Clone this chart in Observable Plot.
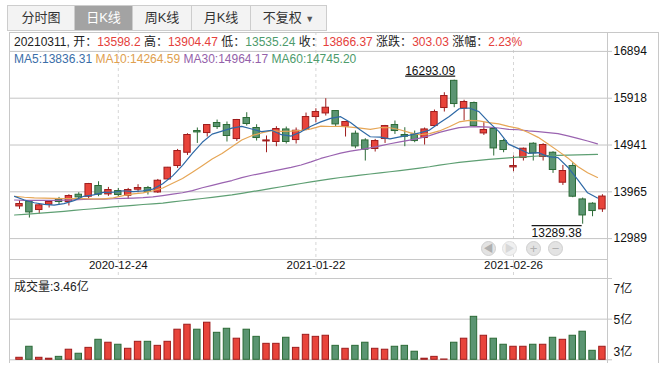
<!DOCTYPE html>
<html><head><meta charset="utf-8">
<script src="https://cdn.jsdelivr.net/npm/d3@7"></script>
<script src="https://cdn.jsdelivr.net/npm/@observablehq/plot@0.6"></script>
<style>
body{margin:0;background:#fff;font-family:"Liberation Sans","Noto Sans CJK SC",sans-serif;}
#wrap{position:relative;width:668px;height:373px;overflow:hidden;background:#fff;}
.hl{position:absolute;height:1px;background:#c8c8c8;}
.vl{position:absolute;width:1px;background:#c8c8c8;}
.tab{position:absolute;top:5px;height:24px;line-height:24px;text-align:center;font-size:13px;color:#333;background:#f3f3f3;border:1px solid #cdcdcd;border-right:none;}
.tab.sel{background:#a3a3a3;color:#fff;}
.tab.last{border-right:1px solid #cdcdcd;}
.info{position:absolute;left:14px;font-size:12px;line-height:16px;white-space:nowrap;color:#222;}
.r{color:#e5403b}.g{color:#4d9b6c}
.btn{position:absolute;top:241px;width:15px;height:15px;border-radius:50%;background:#e3e3e3;border:1px solid #cfcfcf;box-sizing:border-box;color:#b0b0b0;font-size:10px;line-height:13px;text-align:center;}
.btn.off{background:#f0f0f0;color:#d8d8d8;border-color:#e0e0e0;}
#main,#vol{position:absolute;left:0;}
#main{top:32px}#vol{top:278px}
</style></head>
<body><div id="wrap">
<div class="tab" style="left:7px;width:66px">分时图</div>
<div class="tab sel" style="left:74px;width:57px">日K线</div>
<div class="tab" style="left:132px;width:58px">周K线</div>
<div class="tab" style="left:191px;width:58px">月K线</div>
<div class="tab last" style="left:250px;width:75px">不复权 <span style="font-size:9px;color:#555">▼</span></div>
<div id="main"></div>
<div id="vol"></div>
<div class="hl" style="left:9px;top:32px;width:650px"></div>
<div class="vl" style="left:9px;top:32px;height:331px"></div>
<div class="vl" style="left:607px;top:32px;height:331px"></div>
<div class="vl" style="left:658px;top:32px;height:331px"></div>
<div class="hl" style="left:9px;top:259px;width:599px"></div>
<div class="hl" style="left:9px;top:278px;width:603px"></div>
<div class="info" id="line1" style="top:34px"></div>
<div class="info" id="line2" style="top:51px"></div>
<div class="info" id="volLabel" style="top:279px"></div>
<div class="btn" style="left:481px">◀</div>
<div class="btn off" style="left:502px">▶</div>
<div class="btn" style="left:526px;font-size:13px">+</div>
<div class="btn" style="left:548px;font-size:13px">−</div>
</div>
<script>
const dates = ["2020-12-10","2020-12-11","2020-12-14","2020-12-15","2020-12-16","2020-12-17","2020-12-18","2020-12-21","2020-12-22","2020-12-23","2020-12-24","2020-12-25","2020-12-28","2020-12-29","2020-12-30","2020-12-31","2021-01-04","2021-01-05","2021-01-06","2021-01-07","2021-01-08","2021-01-11","2021-01-12","2021-01-13","2021-01-14","2021-01-15","2021-01-18","2021-01-19","2021-01-20","2021-01-21","2021-01-22","2021-01-25","2021-01-26","2021-01-27","2021-01-28","2021-01-29","2021-02-01","2021-02-02","2021-02-03","2021-02-04","2021-02-05","2021-02-08","2021-02-09","2021-02-10","2021-02-18","2021-02-19","2021-02-22","2021-02-23","2021-02-24","2021-02-25","2021-02-26","2021-03-01","2021-03-02","2021-03-03","2021-03-04","2021-03-05","2021-03-08","2021-03-09","2021-03-10","2021-03-11"];
const opens = [13660,13758,13585,13696,13800,13752,13904,13863,14086,13911,13981,13883,14009,14044,13952,14223,14503,14780,15233,15191,15400,15358,15066,15504,15296,15016,15004,15266,15045,15254,15525,15600,15650,15323,15177,15037,14858,15066,15358,15150,15162,15087,15337,15713,16280,15700,15817,15183,15275,15024,14474,14670,14968,14691,14780,14155,14503,13806,13717,13598.2];
const highs = [13779,13769,13710,13779,13848,13904,13946,14140,14175,14057,14036,14036,14113,14077,14223,14474,14849,15177,15296,15364,15462,15421,15475,15615,15364,15129,15323,15316,15296,15608,15698,15907,15656,15433,15233,15072,15058,15350,15442,15302,15233,15296,15671,16032,16293.09,15875,15838,15406,15302,15058,14712,14878,14989,14968,14801,14515,14572,13835,13737,13904.47];
const lows = [13598,13418,13502,13627,13696,13669,13815,13815,13863,13869,13856,13806,13946,13898,13931,14211,14453,14724,14974,15108,15266,15004,15016,15337,15024,14780,14906,14962,14962,15239,15406,15546,15323,15108,14864,14607,14795,14974,15162,14906,14989,14941,15323,15629,15720,15445,15323,15141,14712,14780,14384,14607,14607,14607,14349,14098,13842,13289.38,13445,13535.24];
const closes = [13710,13535,13683,13752,13752,13877,13848,14127,13904,14002,13898,14002,14044,13967,14196,14468,14816,15150,15204,15358,15316,15129,15463,15379,15087,15037,15275,15004,15239,15525,15629,15719,15371,15421,14912,14843,15024,15337,15233,15114,15024,15266,15629,15963,15796,15838,15337,15254,14870,14837,14503,14864,14766,14941,14420,14399,13863,13472,13564,13866.37];
const volumes = [2.51,3.22,2.51,2.45,2.57,3.03,2.77,3.15,3.67,3.48,3.35,3.09,3.54,3.54,3.28,3.54,4.32,4.64,4.32,4.77,4.12,4.38,3.74,4.32,3.86,3.41,3.41,3.80,3.15,3.99,3.86,3.93,3.28,3.09,3.28,3.48,3.09,3.03,3.22,3.28,2.90,2.45,2.57,2.40,3.48,3.74,5.15,3.93,3.74,3.35,3.22,3.22,3.35,3.35,3.80,3.67,3.93,4.19,2.96,3.22];
const ma5 = [13869,13794,13737,13702,13686,13720,13782,13871,13902,13952,13956,13987,13970,13983,14021,14134,14297,14518,14765,14998,15169,15231,15294,15329,15275,15219,15248,15156,15128,15216,15334,15423,15497,15533,15410,15253,15114,15107,15070,15110,15146,15195,15253,15399,15536,15698,15713,15638,15419,15227,14960,14866,14768,14782,14699,14678,14478,14219,13944,13836.31];
const ma10 = [13872,13852,13840,13835,13830,13826,13823,13821,13819,13819,13838,13885,13921,13942,13987,14045,14142,14244,14374,14510,14651,14764,14906,15047,15136,15194,15240,15225,15229,15245,15277,15336,15327,15331,15313,15294,15269,15302,15301,15260,15200,15155,15180,15235,15323,15422,15454,15445,15409,15381,15329,15289,15203,15101,14963,14819,14672,14494,14363,14264.59];
const ma30 = [13794,13788,13786,13786,13786,13792,13798,13805,13810,13814,13820,13827,13833,13842,13858,13886,13915,13946,13991,14050,14100,14152,14200,14260,14310,14349,14390,14432,14474,14525,14589,14661,14718,14773,14812,14844,14883,14924,14968,15005,15043,15085,15138,15204,15257,15303,15321,15324,15313,15296,15269,15260,15237,15222,15200,15178,15131,15080,15024,14964.17];
const ma60 = [13481,13495,13510,13525,13541,13558,13577,13596,13612,13631,13650,13666,13683,13700,13714,13731,13754,13779,13802,13825,13848,13875,13900,13933,13967,14002,14038,14071,14105,14138,14171,14203,14234,14263,14288,14313,14336,14359,14384,14407,14434,14461,14488,14520,14551,14580,14601,14622,14641,14657,14674,14689,14701,14712,14720,14726,14732,14737,14741,14745.20];
const priceTicks = [12989, 13965, 14941, 15918, 16894];
const dateTicks = ["2020-12-24", "2021-01-22", "2021-02-26"];
const volTicks = [3, 5, 7];
const volTickLabels = ["3亿", "5亿", "7亿"];
const volGrid = [5];
const volDomain = [2.38, 7.62];
const priceDomain = [12989, 16894];
const peakLabel = "16293.09", troughLabel = "13289.38";
const header = {date:"20210311", open:"13598.2", high:"13904.47", low:"13535.24", close:"13866.37", change:"303.03", pct:"2.23%"};
const maHeader = [["MA5","13836.31","#3a6ea8"],["MA10","14264.59","#e0a04e"],["MA30","14964.17","#9461aa"],["MA60","14745.20","#4d9b6c"]];
const volHeader = "成交量:3.46亿";

document.getElementById("line1").innerHTML =
  `${header.date}, 开：<span class="r">${header.open}</span> 高：<span class="r">${header.high}</span> 低：<span class="g">${header.low}</span> 收：<span class="r">${header.close}</span> 涨跌：<span class="r">${header.change}</span> 涨幅：<span class="r">${header.pct}</span>`;
document.getElementById("line2").innerHTML = maHeader.map(([k,v,c]) => `<span style="color:${c}">${k}:${v}</span>`).join(" ");
document.getElementById("volLabel").textContent = volHeader;

const rows = dates.map((d,i)=>({date:d, open:opens[i], high:highs[i], low:lows[i], close:closes[i], vol:volumes[i], ma5:ma5[i], ma10:ma10[i], ma30:ma30[i], ma60:ma60[i]}));
const RED_FILL="#e8443b", RED_STROKE="#9e1c1c", GREEN_FILL="#5b9572", GREEN_STROKE="#2b6a36";
const up = d => d.close >= d.open;
const FONT = "'Liberation Sans','Noto Sans CJK SC',sans-serif";
const xScale = {type:"band", domain:dates, range:[14.06,606.86], paddingInner:0.35, paddingOuter:0.175, axis:null};
const HALF = -4.94;

const main = Plot.plot({
  width:668, height:246, marginLeft:9, marginRight:56, marginTop:0, marginBottom:0,
  style:{fontFamily:FONT, fontSize:"12px", background:"transparent", overflow:"visible"},
  x: xScale,
  y: {domain:priceDomain, range:[206.1,18.9], axis:null},
  color: {type:"identity"},
  marks: [
    Plot.ruleX(dateTicks, {x:d=>d, stroke:"#d6d6d6", strokeDasharray:"3,3"}),
    Plot.ruleY(priceTicks, {stroke:"#c4c4c4"}),
    Plot.text(priceTicks, {y:d=>d, text:d=>String(d), frameAnchor:"right", textAnchor:"start", dx:1, fill:"#111", fontSize:12}),
    Plot.text(dateTicks, {x:d=>d, text:d=>d, frameAnchor:"bottom", dy:-10, fill:"#111", fontSize:11.5}),
    Plot.ruleX(rows, {x:"date", y1:"low", y2:"high", stroke:d=>up(d)?RED_STROKE:GREEN_STROKE, strokeWidth:1}),
    Plot.barY(rows, {x:"date", y1:"open", y2:"close", fill:d=>up(d)?RED_FILL:GREEN_FILL, stroke:d=>up(d)?RED_STROKE:GREEN_STROKE, strokeWidth:1}),
    Plot.line(rows, {x:"date", y:"ma60", stroke:"#5e9f73", strokeWidth:1.2, dx:HALF}),
    Plot.line(rows, {x:"date", y:"ma30", stroke:"#9a63b0", strokeWidth:1.2, dx:HALF}),
    Plot.line(rows, {x:"date", y:"ma10", stroke:"#e6a656", strokeWidth:1.2, dx:HALF}),
    Plot.line(rows, {x:"date", y:"ma5", stroke:"#2e69a6", strokeWidth:1.2, dx:HALF}),
    Plot.text(rows.filter(d=>d.high===d3.max(highs)), {x:"date", y:"high", text:()=>peakLabel, textAnchor:"end", dx:1, dy:-9.5, fill:"#111", fontSize:12}),
    Plot.text(rows.filter(d=>d.low===d3.min(lows)), {x:"date", y:"low", text:()=>troughLabel, textAnchor:"end", dx:-1, dy:9, fill:"#111", fontSize:12})
  ]
});
d3.select(main).selectAll("text").filter(function(){return this.textContent===peakLabel;}).style("text-decoration","underline");
d3.select(main).selectAll("text").filter(function(){return this.textContent===troughLabel;}).style("text-decoration","overline");
document.getElementById("main").appendChild(main);

const vol = Plot.plot({
  width:668, height:85, marginLeft:9, marginRight:56, marginTop:0, marginBottom:0,
  style:{fontFamily:FONT, fontSize:"12px", background:"transparent", overflow:"visible"},
  x: xScale,
  y: {domain:volDomain, range:[81.3,0], axis:null},
  color: {type:"identity"},
  marks: [
    Plot.ruleY(volGrid, {stroke:"#c4c4c4"}),
    Plot.ruleY([volDomain[0]], {stroke:"#c4c4c4"}),
    Plot.text(volTicks, {y:d=>d, text:(d,i)=>volTickLabels[i], frameAnchor:"right", textAnchor:"start", dx:1, dy:1.5, fill:"#111", fontSize:12}),
    Plot.barY(rows, {x:"date", y1:()=>volDomain[0], y2:"vol", fill:d=>up(d)?RED_FILL:GREEN_FILL, stroke:d=>up(d)?RED_STROKE:GREEN_STROKE, strokeWidth:1})
  ]
});
document.getElementById("vol").appendChild(vol);
</script>
</body></html>
